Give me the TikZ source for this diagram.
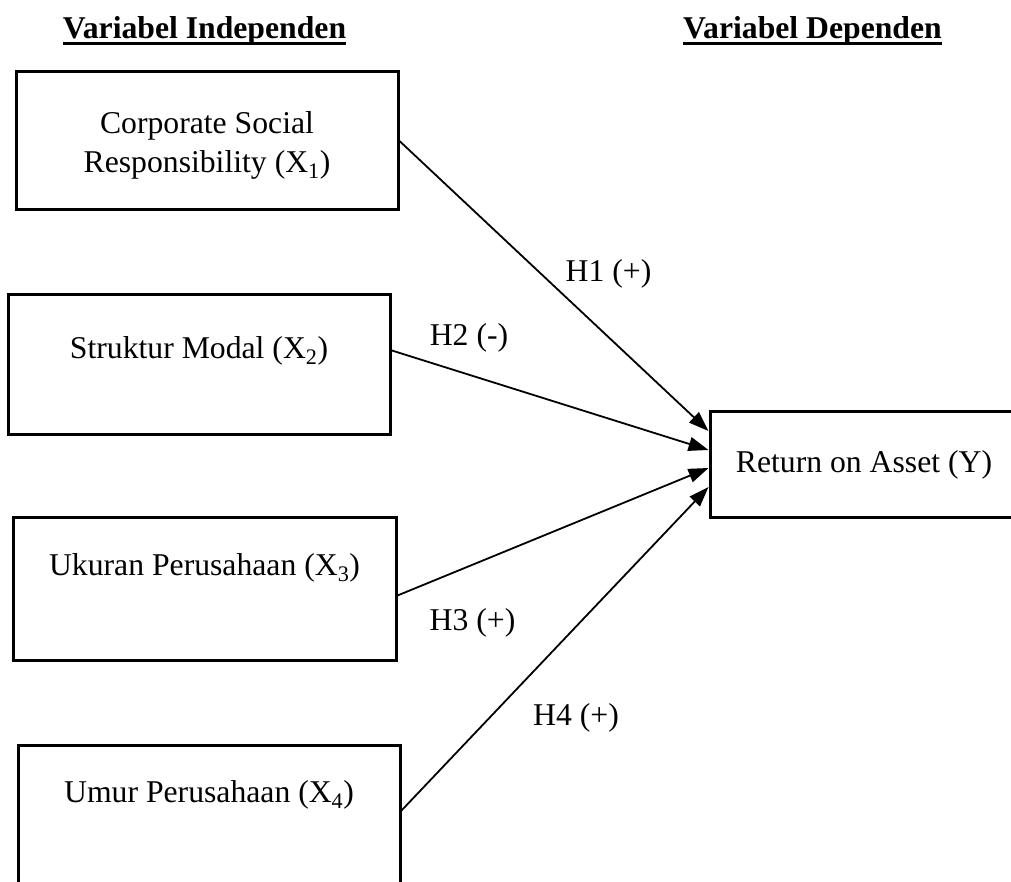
\documentclass[tikz,border=0pt]{standalone}
\usepackage{fontspec}
\setmainfont{Liberation Serif}
\usetikzlibrary{arrows.meta,positioning}

\tikzset{
  var/.style={draw,rectangle,line width=3pt,inner sep=0pt,minimum width=382pt},
  lbl/.style={anchor=base,inner sep=0pt,font=\fontsize{31.7}{39}\selectfont},
  head/.style={lbl,font=\fontsize{31.7}{39}\selectfont\bfseries},
  hyp/.style={-{Triangle[length=20pt,width=14pt]},line width=1.8pt}
}

\begin{document}
\begin{tikzpicture}[x=1pt,y=-1pt]
    \useasboundingbox (0,0) rectangle (1011,882);
    \clip (0,0) rectangle (1011,882);
    % headings
    \node[head] (t_in)  at (204.5,39) {Variabel Independen};
    \node[head] (t_dep) at (812.5,39) {Variabel Dependen};
    \draw[line width=2.6pt] ([yshift=-4.5pt]t_in.base west) -- ([yshift=-4.5pt]t_in.base east);
    \draw[line width=2.6pt] ([yshift=-4.5pt]t_dep.base west) -- ([yshift=-4.5pt]t_dep.base east);
    % boxes
    \node[var,minimum height=138pt] (x_1) at (207,141) {};
    \node[var,minimum height=139pt] (x_2) at (199,364.5) {};
    \node[var,minimum width=383pt,minimum height=143pt] (x_3) at (204.5,588.5) {};
    \node[var,minimum height=143pt] (x_4) at (209,816.5) {};
    \node[var,minimum width=308pt,minimum height=106pt] (y) at (864,464) {};
    % box texts
    \node[lbl,align=center,anchor=center] (x_1 text) at (207,145)
        {Corporate Social\\Responsibility (X\textsubscript{1})};
    \node[lbl] (x_2 text) at (199,358)   {Struktur Modal (X\textsubscript{2})};
    \node[lbl] (x_3 text) at (204.5,575) {Ukuran Perusahaan (X\textsubscript{3})};
    \node[lbl] (x_4 text) at (209,802)   {Umur Perusahaan (X\textsubscript{4})};
    \node[lbl] (y text)   at (864,472.5) {Return on Asset (Y)};
    % hypotheses
    \node[lbl] (h_1) at (608.5,282) {H1 (+)};
    \node[lbl] (h_2) at (469,345)   {H2 (-)};
    \node[lbl] (h_3) at (472.5,630) {H3 (+)};
    \node[lbl] (h_4) at (576,725)   {H4 (+)};
    \draw[hyp] (x_1.east) -- ([yshift=33pt]y.west);
    \draw[hyp] (x_2.east |- x_2 text) -- ([yshift=14pt]y.west);
    \draw[hyp] ([yshift=-7pt]x_3.east) -- ([yshift=-4pt]y.west);
    \draw[hyp] ([yshift=6pt]x_4.east) -- ([yshift=-23pt]y.west);
\end{tikzpicture}
\end{document}
